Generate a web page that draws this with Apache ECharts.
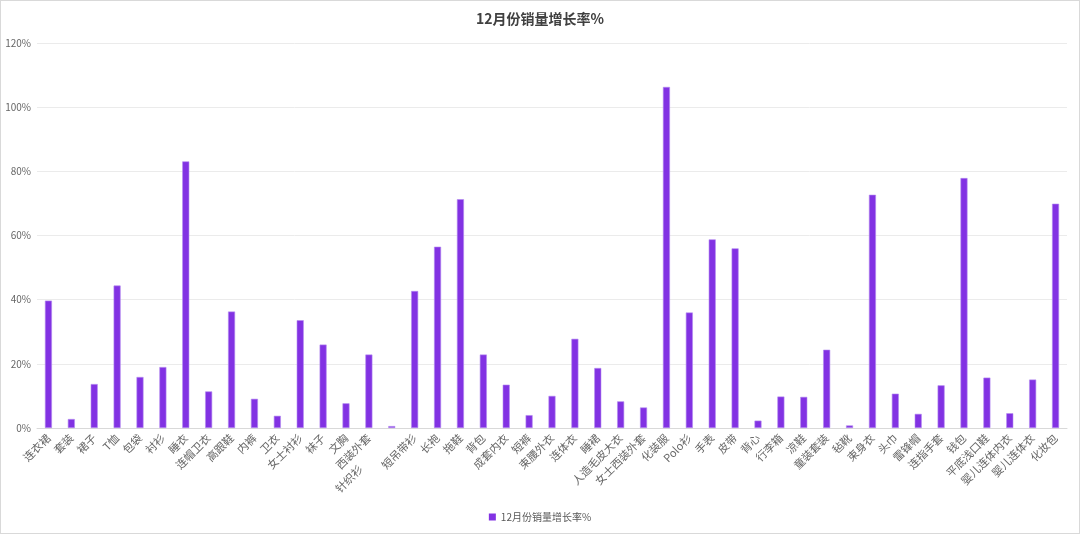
<!DOCTYPE html>
<html>
<head>
<meta charset="utf-8">
<script src="https://cdn.jsdelivr.net/npm/echarts@6/dist/echarts.min.js"></script>
<style>
html,body{margin:0;padding:0;background:#fff;}
#chart{width:1078px;height:532px;border:1px solid #d9d9d9;}
</style>
</head>
<body>
<div id="chart"></div>
<script>
const titleText = '12月份销量增长率%';
const seriesName = '12月份销量增长率%';
const categories = ['连衣裙','套装','裙子','T恤','包袋','衬衫','睡衣','连帽卫衣','高跟鞋','内裤','卫衣','女士衬衫','袜子','文胸','西装外套','针织衫','短吊带衫','长袍','拖鞋','背包','成套内衣','短裤','束腰外衣','连体衣','睡裙','人造毛皮大衣','女士西装外套','化装服','Polo衫','手表','皮带','背心','行李箱','凉鞋','童装套装','毡靴','束身衣','头巾','雷锋帽','连指手套','钱包','平底浅口鞋','婴儿连体内衣','婴儿连体衣','化妆包'];
const values = [39.7,2.8,13.7,44.4,15.9,19.0,83.1,11.4,36.3,9.1,3.8,33.6,26.0,7.7,22.9,0.6,42.7,56.5,71.3,22.9,13.5,4.0,10.0,27.8,18.7,8.3,6.4,106.3,36.0,58.8,56.0,2.3,9.8,9.7,24.4,0.8,72.7,10.7,4.4,13.3,77.9,15.7,4.6,15.1,69.9];
const yTicks = [0,20,40,60,80,100,120];

const chart = echarts.init(document.getElementById('chart'));
const font = '"Noto Sans CJK SC","Noto Sans",sans-serif';
chart.setOption({
  animation:false,
  title:{text:titleText,left:'center',top:6,textStyle:{fontSize:14,fontWeight:'bold',color:'#404040',fontFamily:font}},
  grid:{left:36,right:12,top:42,bottom:105,containLabel:false},
  legend:{bottom:6,left:'center',itemWidth:7,itemHeight:7,icon:'rect',itemStyle:{borderWidth:0},textStyle:{fontSize:10,color:'#595959',fontFamily:font},data:[seriesName]},
  xAxis:{
    type:'category',
    data:categories.map((c,i)=> c==='针织衫' ? {value:c,textStyle:{padding:[0,44,0,0]}} : c),
    axisLine:{lineStyle:{color:'#d9d9d9'}},
    axisTick:{show:false},
    axisLabel:{interval:0,rotate:45,fontSize:11,color:'#666666',fontFamily:font,margin:8}
  },
  yAxis:{
    type:'value',min:yTicks[0],max:yTicks[yTicks.length-1],interval:20,
    axisLine:{show:false},axisTick:{show:false},
    axisLabel:{formatter:'{value}%',fontSize:10,color:'#666666',fontFamily:font,margin:6},
    splitLine:{lineStyle:{color:'#ebebeb'}}
  },
  series:[{
    name:seriesName,type:'bar',data:values,barWidth:7,
    itemStyle:{color:'#8232E3',borderColor:'#b28af0',borderWidth:0.6}
  }]
});
</script>
</body>
</html>
